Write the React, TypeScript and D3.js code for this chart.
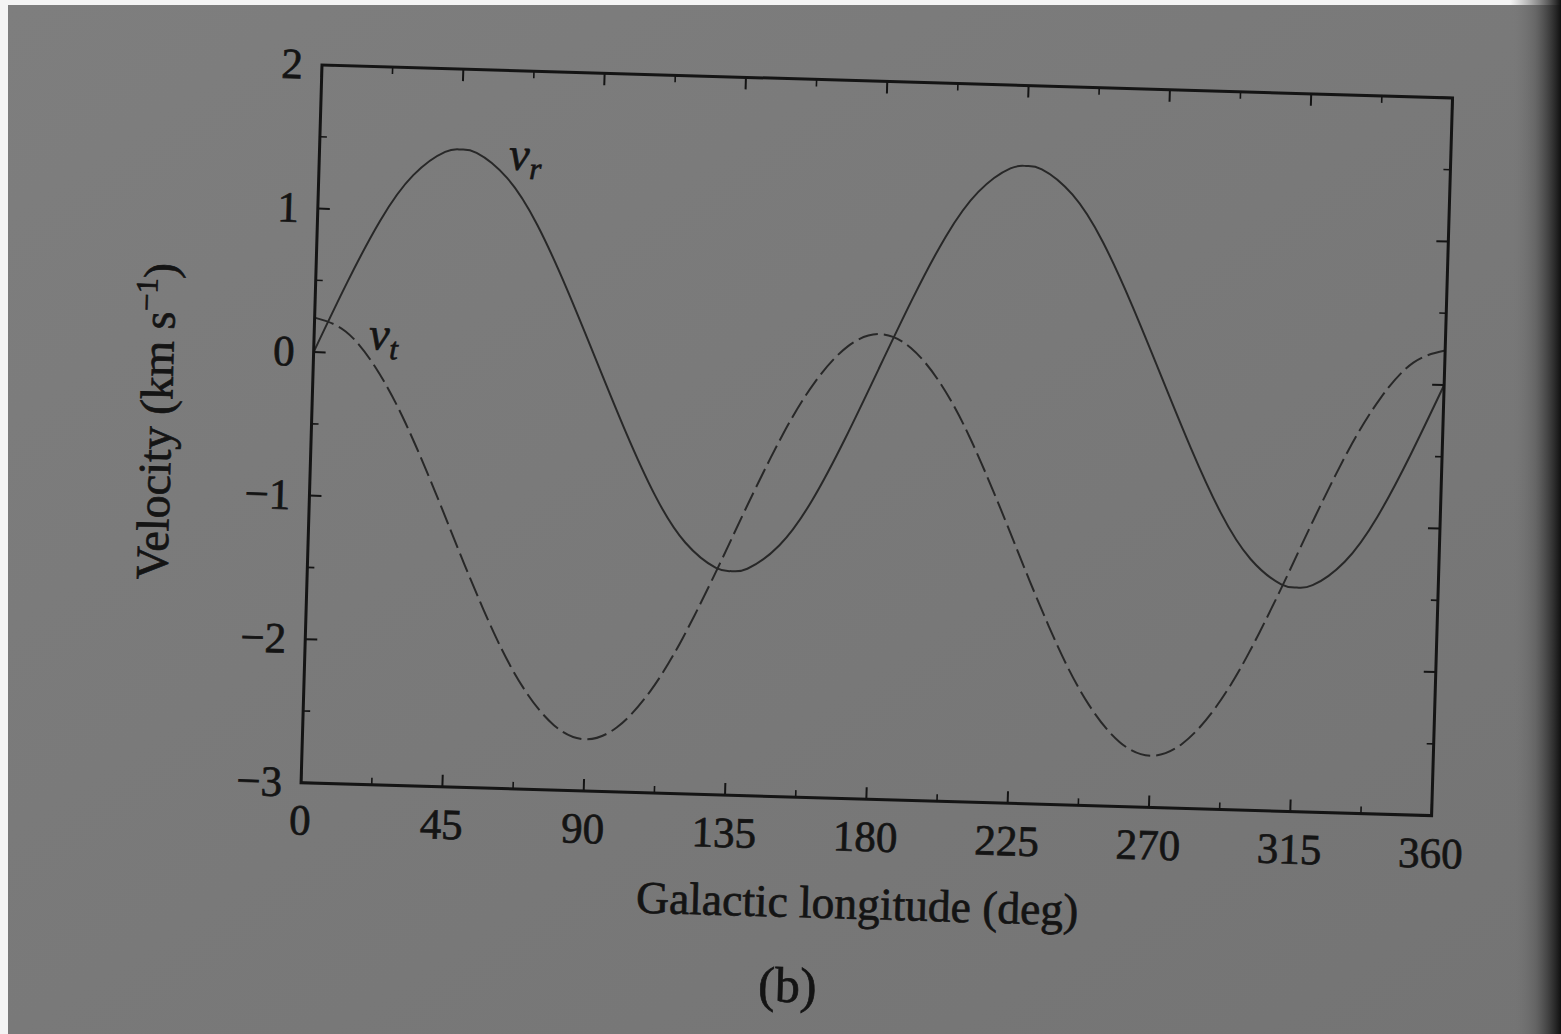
import React from "react";
import * as d3 from "d3";

// Galactic longitude samples (deg)
const longitudes = [0, 10, 20, 30, 40, 45, 50, 60, 70, 80, 90, 100, 110, 120, 130, 135, 140, 150, 160, 170, 180, 190, 200, 210, 220, 225, 230, 240, 250, 260, 270, 280, 290, 300, 310, 315, 320, 330, 340, 350, 360];
// Radial velocity v_r (km/s)
const vrValues = [0.0, 0.49, 0.93, 1.25, 1.42, 1.44, 1.42, 1.25, 0.93, 0.49, 0.0, -0.49, -0.93, -1.25, -1.42, -1.44, -1.42, -1.25, -0.93, -0.49, 0.0, 0.49, 0.93, 1.25, 1.42, 1.44, 1.42, 1.25, 0.93, 0.49, 0.0, -0.49, -0.93, -1.25, -1.42, -1.44, -1.42, -1.25, -0.93, -0.49, 0.0];
// Transverse velocity v_t (km/s)
const vtValues = [0.24, 0.15, -0.10, -0.48, -0.95, -1.20, -1.45, -1.92, -2.30, -2.55, -2.64, -2.55, -2.30, -1.92, -1.45, -1.20, -0.95, -0.48, -0.10, 0.15, 0.24, 0.15, -0.10, -0.48, -0.95, -1.20, -1.45, -1.92, -2.30, -2.55, -2.64, -2.55, -2.30, -1.92, -1.45, -1.20, -0.95, -0.48, -0.10, 0.15, 0.24];

const xTickLabels = [0, 45, 90, 135, 180, 225, 270, 315, 360];
const xMinorTicks = [22.5, 67.5, 112.5, 157.5, 202.5, 247.5, 292.5, 337.5];
const yTickLabels = [-3, -2, -1, 0, 1, 2];
const yMinorTicks = [-2.5, -1.5, -0.5, 0.5, 1.5];

const W = 1561;
const H = 1034;
const FW = 1131;
const FH = 718;
const ORIGIN_X = 322;
const ORIGIN_Y = 65;
const ANGLE = 1.67;

const INK = "#141414";
const FONT = "'Liberation Serif', 'DejaVu Serif', serif";
const TEXT_STROKE = 0.7;

const fmt = (v: number) => (v < 0 ? "\u2212" + Math.abs(v) : String(v));

export default function App() {
  const x = d3.scaleLinear().domain([0, 360]).range([0, FW]);
  const y = d3.scaleLinear().domain([-3, 2]).range([FH, 0]);

  const vrData = longitudes.map((l, i) => [l, vrValues[i]] as [number, number]);
  const vtData = longitudes.map((l, i) => [l, vtValues[i]] as [number, number]);

  const line = d3
    .line<[number, number]>()
    .x((d) => x(d[0]))
    .y((d) => y(d[1]))
    .curve(d3.curveNatural);

  const major = 12;
  const minor = 7;

  const textProps = {
    fontFamily: FONT,
    fill: INK,
    stroke: INK,
    strokeWidth: TEXT_STROKE,
  };

  return (
    <div style={{ position: "fixed", left: 0, top: 0, width: W, height: H }}>
      <svg width={W} height={H} style={{ display: "block" }}>
        <defs>
          <linearGradient id="rightShade" x1="0" x2="1" y1="0" y2="0">
            <stop offset="0" stopColor="#7a7a7a" stopOpacity="0" />
            <stop offset="0.5" stopColor="#5a5a5a" stopOpacity="0.6" />
            <stop offset="1" stopColor="#101010" stopOpacity="1" />
          </linearGradient>
          <linearGradient id="pageTone" x1="0" x2="1" y1="0" y2="1">
            <stop offset="0" stopColor="#7e7e7e" />
            <stop offset="1" stopColor="#747474" />
          </linearGradient>
        </defs>
        <rect x={0} y={0} width={W} height={H} fill="#f4f4f4" />
        <rect x={8} y={5} width={W - 8} height={H - 5} fill="url(#pageTone)" />
        <rect x={1510} y={0} width={W - 1510} height={H} fill="url(#rightShade)" />

        <g transform={`translate(${ORIGIN_X},${ORIGIN_Y}) rotate(${ANGLE})`}>
          {/* curves */}
          <path d={line(vrData) || ""} fill="none" stroke="#282828" strokeWidth={2} />
          <path
            d={line(vtData) || ""}
            fill="none"
            stroke="#282828"
            strokeWidth={2}
            strokeDasharray="20,6"
          />

          {/* frame */}
          <rect x={0} y={0} width={FW} height={FH} fill="none" stroke={INK} strokeWidth={3} />

          {/* x ticks bottom and top */}
          {xTickLabels.map((t) => (
            <g key={"xt" + t}>
              <line x1={x(t)} x2={x(t)} y1={FH} y2={FH - major} stroke={INK} strokeWidth={2} />
              <line x1={x(t)} x2={x(t)} y1={0} y2={major} stroke={INK} strokeWidth={2} />
              <text x={x(t)} y={FH + 52} textAnchor="middle" fontSize={43} {...textProps}>
                {t}
              </text>
            </g>
          ))}
          {xMinorTicks.map((t) => (
            <g key={"xm" + t}>
              <line x1={x(t)} x2={x(t)} y1={FH} y2={FH - minor} stroke={INK} strokeWidth={1.6} />
              <line x1={x(t)} x2={x(t)} y1={0} y2={minor} stroke={INK} strokeWidth={1.6} />
            </g>
          ))}

          {/* y ticks left and right */}
          {yTickLabels.map((t) => (
            <g key={"yt" + t}>
              <line x1={0} x2={major} y1={y(t)} y2={y(t)} stroke={INK} strokeWidth={2} />
              <line x1={FW} x2={FW - major} y1={y(t)} y2={y(t)} stroke={INK} strokeWidth={2} />
              <text x={-19} y={y(t) + 14} textAnchor="end" fontSize={43} {...textProps}>
                {fmt(t)}
              </text>
            </g>
          ))}
          {yMinorTicks.map((t) => (
            <g key={"ym" + t}>
              <line x1={0} x2={minor} y1={y(t)} y2={y(t)} stroke={INK} strokeWidth={1.6} />
              <line x1={FW} x2={FW - minor} y1={y(t)} y2={y(t)} stroke={INK} strokeWidth={1.6} />
            </g>
          ))}

          {/* curve labels */}
          <text x={x(65.5) - 16} y={y(1.38) + 10} fontSize={46} fontStyle="italic" {...textProps}>
            v
            <tspan fontSize={31} dy={9}>r</tspan>
          </text>
          <text x={x(22.6) - 16} y={y(0.1) + 10} fontSize={46} fontStyle="italic" {...textProps}>
            v
            <tspan fontSize={31} dy={9}>t</tspan>
          </text>

          {/* axis titles */}
          <text
            transform={`translate(${-140},${FH / 2 + 2}) rotate(-90)`}
            textAnchor="middle"
            fontSize={46}
            {...textProps}
          >
            Velocity (km s
            <tspan fontSize={31} dy={-18}>{"\u2212"}1</tspan>
            <tspan dy={18}>)</tspan>
          </text>
          <text x={FW / 2 - 6} y={FH + 120} textAnchor="middle" fontSize={45.5} {...textProps}>
            Galactic longitude (deg)
          </text>
          <text x={492} y={FH + 205} textAnchor="middle" fontSize={50} {...textProps}>
            (b)
          </text>
        </g>
      </svg>
    </div>
  );
}
